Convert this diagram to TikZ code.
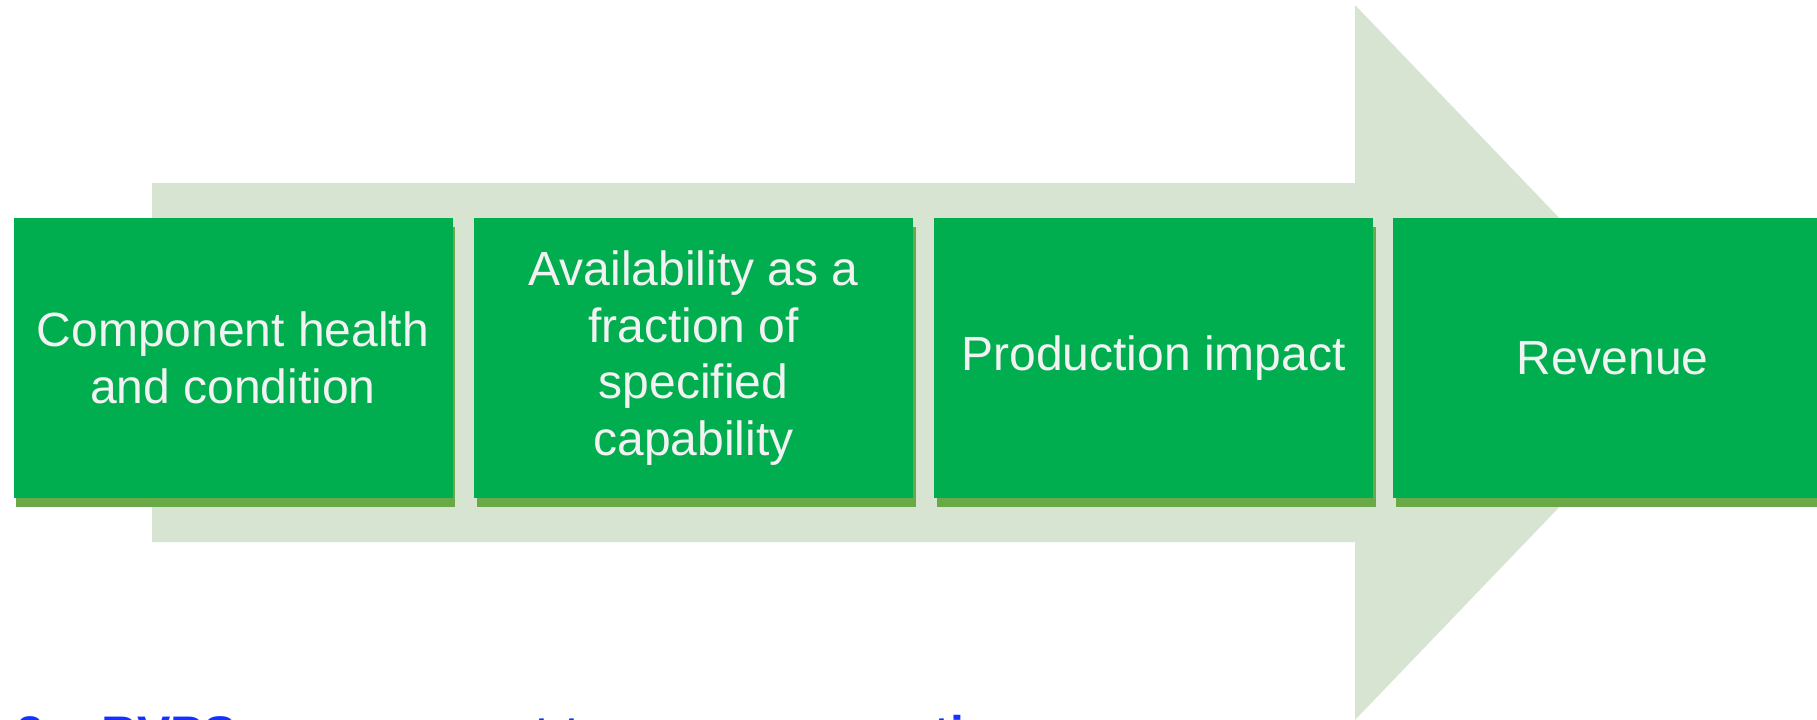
\documentclass[tikz,border=0pt]{standalone}
\usepackage{fontspec}
\setmainfont{Liberation Sans}
\definecolor{arrowbg}{HTML}{D7E4D1}
\definecolor{boxgreen}{HTML}{00AE4F}
\definecolor{shadowgreen}{HTML}{69A947}
\definecolor{boxtext}{HTML}{F2F2F2}
\definecolor{headblue}{HTML}{1530FF}
\tikzset{
  stagebox/.style={rectangle, fill=boxgreen, inner sep=0pt,
    minimum width=219.5pt, minimum height=140pt,
    text=boxtext, align=center,
    font=\fontsize{24pt}{28.2pt}\selectfont,
    preaction={fill=shadowgreen, transform canvas={xshift=1.25pt, yshift=-4.5pt}}},
  bigarrow/.style={fill=arrowbg},
  heading/.style={anchor=base west, inner sep=0pt, text=headblue,
    font=\fontsize{25pt}{30pt}\selectfont\bfseries}
}
\begin{document}
\begin{tikzpicture}[x=0.5pt, y=-0.5pt]
\useasboundingbox (0,0) rectangle (1817,719);
\clip (0,0) rectangle (1817,719);
% background arrow
\fill[bigarrow] (152,183) -- (1355,183) -- (1355,5) -- (1698,362.5)
  -- (1355,720) -- (1355,542) -- (152,542) -- cycle;
% stage boxes
\node[stagebox] (b1) at (233,358) {Component health\\and condition};
\node[stagebox] (b2) at (693.5,358) {Availability as a\\fraction of\\specified\\capability};
\node[stagebox] (b3) at (1153.5,358) {Production impact};
\node[stagebox] (b4) at (1612.5,358) {Revenue};
% heading, cut off by the lower edge
\node[heading] (h) at (16,751) {\makebox[42.75pt][l]{2.}RVPS\hspace{-13pt} measurement to revenue creation};
\end{tikzpicture}
\end{document}
